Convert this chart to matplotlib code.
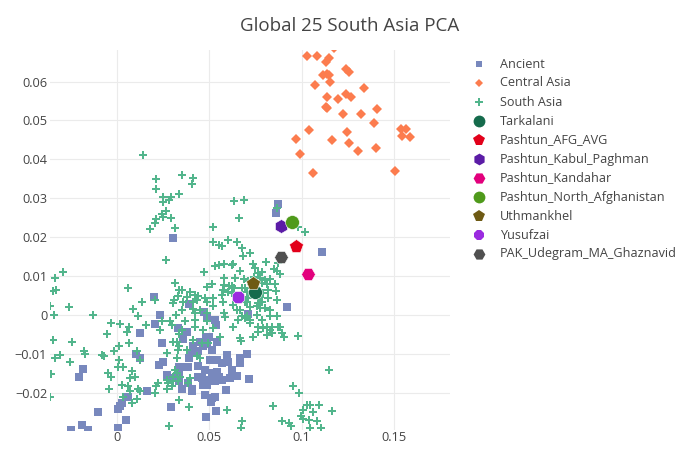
import matplotlib
matplotlib.use("Agg")
import matplotlib.pyplot as plt
from matplotlib.lines import Line2D

plt.rcParams['font.family'] = ['Open Sans', 'DejaVu Sans']

title = "Global 25 South Asia PCA"

x_ticks = [0, 0.05, 0.1, 0.15]
x_tick_labels = ["0", "0.05", "0.1", "0.15"]
y_ticks = [-0.02, -0.01, 0, 0.01, 0.02, 0.03, 0.04, 0.05, 0.06]
y_tick_labels = ["\u22120.02", "\u22120.01", "0", "0.01", "0.02", "0.03", "0.04", "0.05", "0.06"]

ancient = [
    (0.0870, 0.0284), (0.0861, 0.0262), (0.0303, 0.0197), (0.1108, 0.0162), (0.0200, 0.0047),
    (0.0392, 0.0028), (0.0923, 0.0021), (0.0712, 0.0003), (0.0234, 0.0000), (0.0207, -0.0024),
    (0.0474, 0.0008), (0.0486, -0.0006), (0.0531, -0.0013), (0.0537, -0.0026), (0.0126, -0.0047),
    (0.0333, -0.0034), (0.0382, -0.0044), (0.0360, -0.0062), (0.0243, -0.0073), (0.0481, -0.0057),
    (0.0501, -0.0056), (0.0450, -0.0069), (0.0414, -0.0081), (0.0468, -0.0081), (0.0439, -0.0093),
    (0.0407, -0.0098), (0.0488, -0.0075), (0.0514, -0.0090), (0.0544, -0.0069), (0.0595, -0.0103),
    (0.0392, -0.0111), (0.0504, -0.0116), (0.0541, -0.0116), (0.0568, -0.0124), (0.0603, -0.0120),
    (0.0666, -0.0111), (0.0666, -0.0124), (0.0706, -0.0100), (0.0103, -0.0100), (0.0126, -0.0111),
    (0.0229, -0.0129), (0.0249, -0.0120), (0.0338, -0.0133), (0.0378, -0.0133), (0.0441, -0.0131),
    (0.0477, -0.0141), (0.0514, -0.0150), (0.0544, -0.0146), (0.0622, -0.0143), (0.0649, -0.0157),
    (0.0612, -0.0163), (0.0555, -0.0159), (0.0568, -0.0167), (0.0531, -0.0171), (0.0495, -0.0167),
    (0.0459, -0.0163), (0.0441, -0.0161), (0.0486, -0.0180), (0.0468, -0.0180), (0.0270, -0.0154),
    (0.0338, -0.0150), (0.0315, -0.0163), (0.0338, -0.0171), (0.0351, -0.0190), (0.0405, -0.0191),
    (0.0405, -0.0197), (0.0477, -0.0206), (0.0591, -0.0193), (0.0714, -0.0166), (0.0514, -0.0214),
    (0.0508, -0.0223), (0.0531, -0.0212), (0.0165, -0.0197), (0.0294, -0.0237), (0.0537, -0.0247),
    (0.0483, -0.0263), (-0.0181, -0.0140), (-0.0202, -0.0159), (0.0059, -0.0210), (0.0029, -0.0227),
    (0.0018, -0.0234), (0.0005, -0.0242), (-0.0103, -0.0249), (0.0050, -0.0270), (-0.0189, -0.0283),
    (-0.0247, -0.0297), (-0.0154, -0.0296), (0.0009, -0.0290), (0.0384, -0.0176), (0.0387, -0.0133),
]

central_asia = [
    (0.1029, 0.0666), (0.1081, 0.0666), (0.1148, 0.0661), (0.1131, 0.0649), (0.1176, 0.0686),
    (0.1238, 0.0633), (0.1254, 0.0624), (0.1117, 0.0616), (0.1135, 0.0620), (0.1146, 0.0616),
    (0.1155, 0.0600), (0.1072, 0.0591), (0.1338, 0.0584), (0.1238, 0.0569), (0.1138, 0.0559),
    (0.1198, 0.0555), (0.1265, 0.0559), (0.1131, 0.0535), (0.1138, 0.0533), (0.1405, 0.0529),
    (0.1223, 0.0517), (0.1322, 0.0517), (0.1392, 0.0494), (0.1041, 0.0476), (0.1246, 0.0470),
    (0.1535, 0.0477), (0.1562, 0.0478), (0.0971, 0.0451), (0.1162, 0.0450), (0.1542, 0.0459),
    (0.1584, 0.0458), (0.1254, 0.0442), (0.1306, 0.0422), (0.1402, 0.0429), (0.0989, 0.0413),
    (0.1063, 0.0364), (0.1504, 0.0371),
]

south_asia = [
    # upper left arm
    (0.0144, 0.0411), (0.0214, 0.0349), (0.0351, 0.0359), (0.0411, 0.0352), (0.0407, 0.0336),
    (0.0214, 0.0323), (0.0249, 0.0304), (0.0292, 0.0304), (0.0338, 0.0310), (0.0284, 0.0296),
    (0.0252, 0.0289), (0.0266, 0.0267), (0.0243, 0.0259), (0.0252, 0.0251), (0.0292, 0.0249),
    (0.0212, 0.0246), (0.0207, 0.0237), (0.0314, 0.0224), (0.0180, 0.0220), (0.0268, 0.0142),
    (0.0522, 0.0225), (-0.0289, 0.0110), (-0.0334, 0.0094),
    (0.0634, 0.0292), (0.0688, 0.0296), (0.0663, 0.0249), (0.0866, 0.0274), (0.0978, 0.0227),
    (0.1016, 0.0213),
    (-0.0343, 0.0062), (-0.0330, 0.0064), (0.0063, 0.0069), (-0.0361, 0.0024), (-0.0256, 0.0019),
    (0.0314, 0.0081), (0.0337, 0.0064), (0.0331, 0.0049), (0.0303, 0.0030), (0.0311, 0.0039),
    (0.0209, 0.0039), (0.0137, 0.0032), (0.0090, 0.0015),
    # main cluster
    (0.0522, 0.0187), (0.0555, 0.0180), (0.0571, 0.0177), (0.0603, 0.0193), (0.0652, 0.0187),
    (0.0676, 0.0171), (0.0721, 0.0158), (0.0681, 0.0152), (0.0807, 0.0137), (0.0874, 0.0133),
    (0.0531, 0.0126), (0.0553, 0.0128), (0.0580, 0.0131), (0.0630, 0.0130), (0.0735, 0.0130),
    (0.0748, 0.0120), (0.0784, 0.0111), (0.0765, 0.0107), (0.0666, 0.0114), (0.0472, 0.0111),
    (0.0850, 0.0118), (0.0865, 0.0113), (0.0883, 0.0105), (0.0580, 0.0096), (0.0639, 0.0094),
    (0.0690, 0.0092), (0.0742, 0.0098), (0.0775, 0.0094), (0.0802, 0.0090), (0.0829, 0.0092),
    (0.0784, 0.0081), (0.0811, 0.0079), (0.0514, 0.0080), (0.0490, 0.0071), (0.0580, 0.0077),
    (0.0609, 0.0073), (0.0634, 0.0069), (0.0676, 0.0069), (0.0819, 0.0064), (0.0861, 0.0062),
    (0.0703, 0.0060), (0.0730, 0.0056), (0.0792, 0.0056), (0.0576, 0.0064), (0.0396, 0.0060),
    (0.0423, 0.0051), (0.0441, 0.0049), (0.0477, 0.0043), (0.0378, 0.0047), (0.0351, 0.0064),
    (0.0522, 0.0043), (0.0571, 0.0051), (0.0622, 0.0056), (0.0684, 0.0047), (0.0775, 0.0047),
    (0.0816, 0.0043), (0.0865, 0.0039), (0.0784, 0.0034), (0.0432, 0.0039), (0.0414, 0.0034),
    (0.0486, 0.0034), (0.0522, 0.0023), (0.0576, 0.0032), (0.0630, 0.0026), (0.0703, 0.0032),
    (0.0721, 0.0021), (0.0760, 0.0023), (0.0802, 0.0017), (0.0829, 0.0013), (0.0360, 0.0034),
    (0.0351, 0.0013), (0.0414, 0.0015), (0.0450, 0.0013), (0.0423, 0.0004), (0.0486, 0.0006),
    (0.0582, 0.0004), (0.0585, -0.0006), (0.0666, 0.0013), (0.0676, -0.0004), (0.0694, -0.0008),
    (0.0757, 0.0000), (0.0784, -0.0013), (0.0829, -0.0004), (0.0865, -0.0004), (0.0883, -0.0030),
    (0.0721, -0.0021), (0.0765, -0.0030), (0.0792, -0.0034), (0.0829, -0.0039), (0.0838, -0.0047),
    (0.0982, -0.0054), (0.0369, -0.0017), (0.0423, -0.0013), (0.0486, -0.0017), (0.0423, -0.0030),
    (0.0468, -0.0039), (0.0522, -0.0034), (0.0558, -0.0056), (0.0666, -0.0060), (0.0351, -0.0039),
    (0.0630, -0.0030), (0.0657, -0.0013), (0.0738, -0.0056), (0.0907, -0.0057),
    (0.0622, 0.0129), (0.0711, 0.0086), (0.0856, 0.0079), (0.0622, 0.0075), (0.0603, 0.0060),
    (0.0694, 0.0069), (0.0711, 0.0043), (0.0694, 0.0034), (0.0765, 0.0030), (0.0775, 0.0017),
    (0.0649, 0.0013), (0.0703, -0.0004), (0.0721, -0.0013), (0.0811, -0.0030), (0.0838, -0.0030),
    (0.0874, -0.0030), (0.0892, -0.0047), (0.0765, -0.0043), (0.0811, -0.0051), (0.0787, 0.0081),
    # lower left
    (-0.0339, 0.0000), (-0.0126, 0.0000), (-0.0031, -0.0020), (0.0018, -0.0023), (0.0068, -0.0030),
    (0.0057, -0.0043), (-0.0054, -0.0049), (0.0114, -0.0003), (-0.0346, -0.0064), (-0.0243, -0.0069),
    (-0.0175, -0.0094), (-0.0171, -0.0100), (-0.0306, -0.0103), (-0.0334, -0.0111), (-0.0252, -0.0120),
    (-0.0081, -0.0103), (-0.0067, -0.0107), (-0.0015, -0.0094), (0.0012, -0.0081), (0.0068, -0.0073),
    (0.0108, -0.0092), (0.0012, -0.0117), (-0.0045, -0.0150), (-0.0032, -0.0159), (0.0005, -0.0135),
    (0.0032, -0.0134), (0.0084, -0.0144), (0.0072, -0.0163), (0.0099, -0.0160), (0.0027, -0.0180),
    (0.0063, -0.0183), (-0.0040, -0.0191), (0.0072, -0.0197), (0.0114, -0.0191), (0.0036, -0.0210),
    (0.0108, -0.0216), (0.0081, -0.0227), (-0.0355, -0.0152), (-0.0361, -0.0210),
    (0.0158, -0.0026), (0.0243, -0.0017), (0.0288, -0.0017), (0.0297, -0.0026), (0.0234, -0.0040),
    (0.0338, -0.0049), (0.0306, -0.0069), (0.0324, -0.0069), (0.0321, 0.0000), (0.0270, -0.0098),
    (0.0330, -0.0090), (0.0324, -0.0111), (0.0126, -0.0116), (0.0315, -0.0143), (0.0324, -0.0150),
    (0.0306, -0.0159), (0.0333, -0.0171), (0.0306, -0.0171), (0.0279, -0.0176), (0.0270, -0.0167),
    (0.0225, -0.0176), (0.0212, -0.0184), (0.0207, -0.0201), (0.0270, -0.0191), (0.0297, -0.0184),
    (0.0281, -0.0287), (0.0126, -0.0195), (0.0338, -0.0219), (0.0337, -0.0079), (0.0414, -0.0064),
    (0.0459, -0.0073), (0.0495, -0.0073), (0.0378, -0.0090), (0.0432, -0.0107), (0.0450, -0.0111),
    (0.0342, -0.0159), (0.0396, -0.0163), (0.0387, -0.0174), (0.0392, -0.0237), (0.0598, -0.0244),
    # lower right
    (0.0672, -0.0066), (0.1149, -0.0141), (0.0955, -0.0183), (0.0987, -0.0200), (0.0843, -0.0234),
    (0.1027, -0.0232), (0.1045, -0.0231), (0.1094, -0.0232), (0.1009, -0.0244), (0.1059, -0.0251),
    (0.1164, -0.0246), (0.0995, -0.0261), (0.1005, -0.0267), (0.1041, -0.0270), (0.1081, -0.0274),
    (0.0892, -0.0272), (0.0933, -0.0278), (0.0942, -0.0285), (0.0676, -0.0272), (0.0672, -0.0291),
    (0.1045, -0.0291), (0.1103, -0.0291),
]

target_names = ["Tarkalani", "Pashtun_AFG_AVG", "Pashtun_Kabul_Paghman", "Pashtun_Kandahar",
                "Pashtun_North_Afghanistan", "Uthmankhel", "Yusufzai", "PAK_Udegram_MA_Ghaznavid"]
target_x = [0.0749, 0.0969, 0.0889, 0.1034, 0.0946, 0.0737, 0.0658, 0.0891]
target_y = [0.0060, 0.0176, 0.0229, 0.0104, 0.0238, 0.0081, 0.0046, 0.0149]

# styling
target_markers = ['o', 'p', 'h', 'H', 'o', 'p', '8', 'H']
target_colors = ['#156b4c', '#e2001a', '#5b1ca6', '#e2007c', '#4f9a1b', '#6e5a14', '#9b2be0', '#505050']
c_ancient = '#7888bd'
c_central = '#fc7c4e'
c_south = '#52b58c'

fig = plt.figure(figsize=(7, 4.5), dpi=100)
ax = fig.add_axes([50 / 700, 20 / 450, 400 / 700, 380 / 450])

ax.plot([p[0] for p in ancient], [p[1] for p in ancient], 's', ms=5.3, color=c_ancient,
        mew=0, zorder=3)
ax.plot([p[0] for p in central_asia], [p[1] for p in central_asia], 'D', ms=4.6, color=c_central,
        mew=0, zorder=3)
ax.plot([p[0] for p in south_asia], [p[1] for p in south_asia], 'P', ms=5.8, color=c_south,
        mew=0, zorder=3)
for name, x, y, m, c in zip(target_names, target_x, target_y, target_markers, target_colors):
    ax.plot([x], [y], m, ms=10, color=c, mec='white', mew=0.4, zorder=4)

ax.set_xlim(-0.036, 0.1802)
ax.set_ylim(-0.0296, 0.0681)
ax.set_xticks(x_ticks)
ax.set_xticklabels(x_tick_labels)
ax.set_yticks(y_ticks)
ax.set_yticklabels(y_tick_labels)
ax.tick_params(length=0, labelsize=9.2, colors='#444444', pad=2)
ax.tick_params(axis='x', pad=1)
ax.grid(True, color='#ebebeb', lw=0.8, zorder=0)
ax.set_axisbelow(True)
for s in ax.spines.values():
    s.set_visible(False)

fig.text(0.5, 1 - 26 / 450, title, ha='center', va='center', fontsize=13.5, color='#444444')

# legend drawn by hand
leg_labels = ["Ancient", "Central Asia", "South Asia"] + target_names
leg_markers = ['s', 'D', 'P'] + target_markers
leg_colors = [c_ancient, c_central, c_south] + target_colors
leg_sizes = [4.5, 3.8, 5.2] + [8.5] * len(target_names)
for i, (lab, m, c, ms) in enumerate(zip(leg_labels, leg_markers, leg_colors, leg_sizes)):
    yy = 1 - (64 + 19 * i) / 450
    fig.add_artist(Line2D([479 / 700], [yy], marker=m, ms=ms, color=c, mew=0,
                          transform=fig.transFigure))
    fig.text(500 / 700, yy, lab, ha='left', va='center', fontsize=9.1, color='#444444')

fig.savefig("out.png", dpi=100)
